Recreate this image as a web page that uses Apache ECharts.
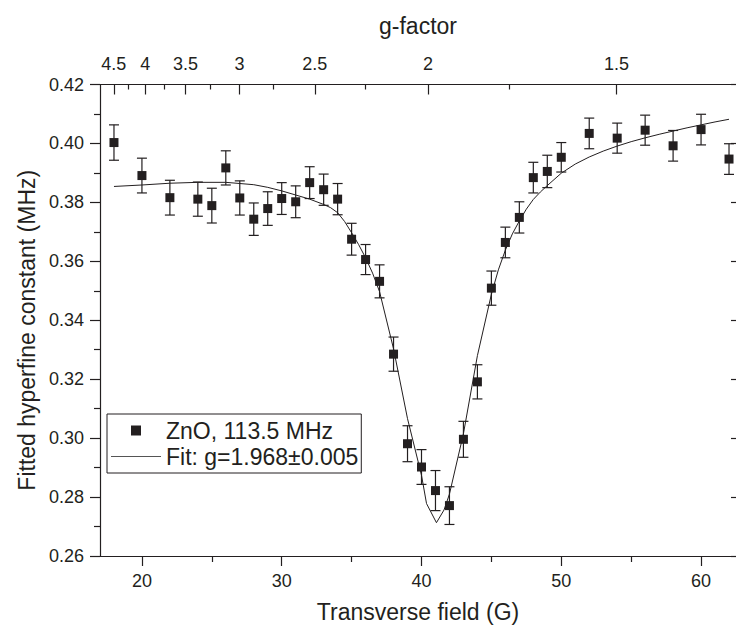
<!DOCTYPE html>
<html>
<head>
<meta charset="utf-8">
<script src="https://cdn.jsdelivr.net/npm/echarts@6/dist/echarts.min.js"></script>
<style>html,body{margin:0;padding:0;background:#fff}#c{width:736px;height:628px}</style>
</head>
<body>
<div id="c"></div>
<script>
// Measured data (Transverse field in G, fitted hyperfine constant in MHz)
const fieldG = [18,20,22,24,25,26,27,28,29,30,31,32,33,34,35,36,37,38,39,40,41,42,43,44,45,46,47,48,49,50,52,54,56,58,60,62];
const hyperfine = [0.4003,0.3891,0.3816,0.3811,0.3789,0.3917,0.3815,0.3743,0.3779,0.3813,0.3802,0.3867,0.3843,0.3811,0.3675,0.3606,0.3532,0.3285,0.2981,0.2902,0.2822,0.2771,0.2996,0.3191,0.3509,0.3664,0.3749,0.3884,0.3905,0.3953,0.4034,0.4018,0.4045,0.3992,0.4047,0.3947];
const errors = [0.0060,0.0059,0.0059,0.0058,0.0059,0.0058,0.0058,0.0055,0.0057,0.0054,0.0054,0.0054,0.0053,0.0053,0.0054,0.0051,0.0056,0.0058,0.0061,0.0059,0.0068,0.0064,0.0061,0.0058,0.0058,0.0052,0.0053,0.0052,0.0055,0.0050,0.0052,0.0051,0.0051,0.0052,0.0052,0.0052];

// Fit curve
const fitField = [18,20,22,24,26,28,29,30,31,32,33,33.5,34,34.5,35,35.5,36,36.5,37,38,39,40,40.36,41.07,41.61,42,43,44,45,45.5,46,46.5,47,47.5,48,48.5,49,50,51,52,53,54,55,56,57,58,59,60,61,62];
const fitValue = [0.3854,0.3859,0.3865,0.3868,0.3868,0.3860,0.3851,0.3839,0.3825,0.3811,0.3793,0.3782,0.3765,0.3735,0.3697,0.3657,0.3612,0.3560,0.3497,0.3303,0.3066,0.2874,0.2778,0.2713,0.2756,0.2810,0.3015,0.3280,0.3488,0.3571,0.3638,0.3693,0.3737,0.3777,0.3810,0.3835,0.3857,0.3899,0.3930,0.3954,0.3974,0.3991,0.4006,0.4019,0.4031,0.4042,0.4053,0.4063,0.4073,0.4082];

// Axis ticks
const xMajorTicks = [20,30,40,50,60];
const xMinorTicks = [25,35,45,55];
const gMajorTicks = [4.5,4,3.5,3,2.5,2,1.5];
const gMinorTicks = [4.25,3.75,3.25,2.75,2.25,1.75];
const gConst = 80.93; // B(G) = gConst / g  (h*113.5MHz / muB)

const seriesName = 'ZnO, 113.5 MHz';
const fitName = 'Fit: g=1.968\u00b10.005';

const ink = '#231f20';
const font = '"Liberation Sans", Arial, sans-serif';
const X_MIN = 17, X_MAX = 62.5;

const chart = echarts.init(document.getElementById('c'), null, {renderer: 'svg'});

const errData = fieldG.map((b, i) => [b, hyperfine[i] - errors[i], hyperfine[i] + errors[i]]);
const ptData = fieldG.map((b, i) => [b, hyperfine[i]]);
const fitData = fitField.map((b, i) => [b, fitValue[i]]);

const commonLine = {lineStyle: {color: ink, width: 1.2}};

chart.setOption({
  animation: false,
  backgroundColor: '#fff',
  textStyle: {fontFamily: font, color: ink},
  grid: {left: 100, top: 84.5, width: 637, height: 472, containLabel: false},
  legend: {
    orient: 'vertical',
    left: 107, top: 414,
    selectedMode: false,
    borderColor: ink, borderWidth: 1,
    padding: [5, 3, 5, 4],
    itemWidth: 50, itemHeight: 10, itemGap: 3,
    symbolKeepAspect: true,
    textStyle: {fontFamily: font, fontSize: 23, color: ink},
    data: [
      {name: seriesName, icon: 'path://M0,0 L10,0 L10,10 L0,10 Z', itemStyle: {color: ink, opacity: 1}},
      {name: fitName, icon: 'path://M0,0 L50,0 L50,1 L0,1 Z', itemStyle: {color: '#555', opacity: 1}}
    ]
  },
  xAxis: [
    {
      type: 'value', position: 'bottom', min: X_MIN, max: X_MAX,
      axisLine: {show: true, onZero: false, ...commonLine},
      axisTick: {show: true, inside: false, length: 10, customValues: xMajorTicks, lineStyle: {color: ink, width: 1.2}},
      axisLabel: {show: true, customValues: xMajorTicks, margin: 16, fontSize: 18, color: ink, fontFamily: font},
      splitLine: {show: false},
      name: 'Transverse field (G)', nameLocation: 'middle', nameGap: 44,
      nameTextStyle: {fontSize: 23, color: ink, fontFamily: font}
    },
    {
      type: 'value', position: 'bottom', min: X_MIN, max: X_MAX,
      axisLine: {show: false},
      axisTick: {show: true, inside: false, length: 6, customValues: xMinorTicks, lineStyle: {color: ink, width: 1.2}},
      axisLabel: {show: false}, splitLine: {show: false}
    },
    {
      type: 'value', position: 'top', min: X_MIN, max: X_MAX,
      axisLine: {show: true, onZero: false, ...commonLine},
      axisTick: {show: true, inside: true, length: 10, customValues: gMajorTicks.map(g => gConst / g), lineStyle: {color: ink, width: 1.2}},
      axisLabel: {show: true, customValues: gMajorTicks.map(g => gConst / g), margin: 12, fontSize: 18, color: ink, fontFamily: font,
        formatter: v => String(Math.round(gConst / v * 2) / 2)},
      splitLine: {show: false},
      name: 'g-factor', nameLocation: 'middle', nameGap: 47,
      nameTextStyle: {fontSize: 23, color: ink, fontFamily: font}
    },
    {
      type: 'value', position: 'top', min: X_MIN, max: X_MAX,
      axisLine: {show: false},
      axisTick: {show: true, inside: true, length: 5, customValues: gMinorTicks.map(g => gConst / g), lineStyle: {color: ink, width: 1.2}},
      axisLabel: {show: false}, splitLine: {show: false}
    }
  ],
  yAxis: [
    {
      type: 'value', position: 'left', min: 0.26, max: 0.42, interval: 0.02,
      axisLine: {show: true, onZero: false, ...commonLine},
      axisTick: {show: true, inside: false, length: 10, lineStyle: {color: ink, width: 1.2}},
      minorTick: {show: true, splitNumber: 2, length: 6, lineStyle: {color: ink, width: 1.2}},
      axisLabel: {margin: 16, fontSize: 18, color: ink, fontFamily: font, formatter: v => v.toFixed(2)},
      splitLine: {show: false}, minorSplitLine: {show: false},
      name: 'Fitted hyperfine constant (MHz)', nameLocation: 'middle', nameGap: 60,
      nameTextStyle: {fontSize: 23, color: ink, fontFamily: font, padding: [0, 20, 0, 0]}
    },
    {
      type: 'value', position: 'right', min: 0.26, max: 0.42, interval: 0.02,
      axisLine: {show: false},
      axisTick: {show: true, inside: true, length: 5, lineStyle: {color: ink, width: 1.2}},
      axisLabel: {show: false}, splitLine: {show: false}
    }
  ],
  series: [
    {
      name: fitName, type: 'line', xAxisIndex: 0, yAxisIndex: 0,
      data: fitData, showSymbol: false, symbol: 'none', smooth: false,
      lineStyle: {color: ink, width: 1}, itemStyle: {color: ink}, z: 2
    },
    {
      name: 'errorbars', type: 'custom', xAxisIndex: 0, yAxisIndex: 0,
      data: errData, encode: {x: 0, y: [1, 2]}, z: 3,
      renderItem: function (params, api) {
        const x = api.value(0);
        const lo = api.coord([x, api.value(1)]);
        const hi = api.coord([x, api.value(2)]);
        const hw = 5;
        const st = {stroke: ink, lineWidth: 1.2};
        return {type: 'group', children: [
          {type: 'line', shape: {x1: lo[0], y1: lo[1], x2: hi[0], y2: hi[1]}, style: st},
          {type: 'line', shape: {x1: lo[0] - hw, y1: lo[1], x2: lo[0] + hw, y2: lo[1]}, style: st},
          {type: 'line', shape: {x1: hi[0] - hw, y1: hi[1], x2: hi[0] + hw, y2: hi[1]}, style: st}
        ]};
      }
    },
    {
      name: seriesName, type: 'scatter', xAxisIndex: 0, yAxisIndex: 0,
      data: ptData, symbol: 'rect', symbolSize: 9,
      itemStyle: {color: ink, opacity: 1}, z: 4
    }
  ]
});
</script>
</body>
</html>
